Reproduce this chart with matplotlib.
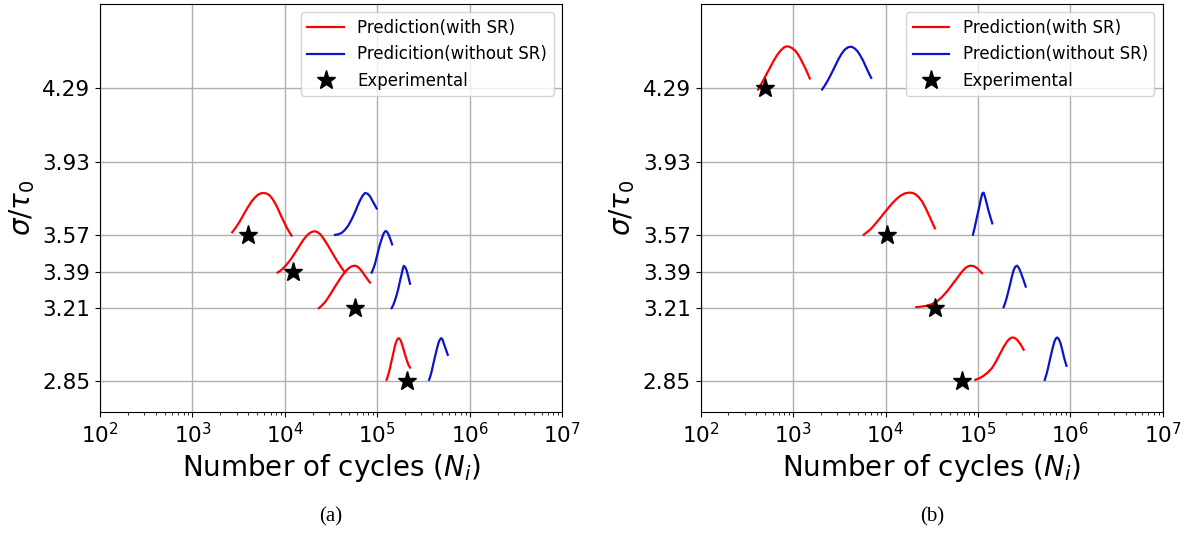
import numpy as np
import matplotlib.pyplot as plt

# y ticks = stress levels sigma/tau0
stress_ticks = [2.85, 3.21, 3.39, 3.57, 3.93, 4.29]

# ---- panel (a): curves, x given as log10(N) ----
a_red_357_x = [3.430, 3.462, 3.495, 3.531, 3.567, 3.603, 3.639, 3.675, 3.711, 3.742, 3.773, 3.806, 3.838, 3.869, 3.899, 3.928, 3.957, 3.988, 4.018, 4.045, 4.072]
a_red_357_y = [3.583, 3.602, 3.624, 3.652, 3.681, 3.709, 3.734, 3.754, 3.768, 3.775, 3.776, 3.773, 3.763, 3.745, 3.722, 3.695, 3.665, 3.636, 3.608, 3.586, 3.567]
a_blue_357_x = [4.542, 4.578, 4.614, 4.650, 4.686, 4.722, 4.758, 4.785, 4.812, 4.840, 4.866, 4.894, 4.921, 4.957, 4.993]
a_blue_357_y = [3.570, 3.573, 3.580, 3.595, 3.616, 3.646, 3.681, 3.711, 3.739, 3.762, 3.776, 3.773, 3.760, 3.730, 3.700]
a_red_339_x = [3.921, 3.952, 3.982, 4.018, 4.054, 4.090, 4.126, 4.163, 4.199, 4.235, 4.271, 4.298, 4.325, 4.352, 4.379, 4.406, 4.433, 4.469, 4.505, 4.541, 4.578, 4.614, 4.650]
a_red_339_y = [3.385, 3.394, 3.406, 3.424, 3.444, 3.468, 3.493, 3.520, 3.545, 3.566, 3.580, 3.586, 3.588, 3.584, 3.575, 3.560, 3.542, 3.516, 3.488, 3.460, 3.433, 3.408, 3.386]
a_blue_339_x = [4.939, 4.957, 4.975, 4.993, 5.011, 5.029, 5.047, 5.068, 5.090, 5.108, 5.125, 5.143, 5.160]
a_blue_339_y = [3.385, 3.404, 3.428, 3.460, 3.493, 3.524, 3.550, 3.577, 3.590, 3.584, 3.568, 3.547, 3.524]
a_red_321_x = [4.368, 4.400, 4.433, 4.469, 4.505, 4.541, 4.578, 4.614, 4.650, 4.677, 4.704, 4.731, 4.758, 4.785, 4.812, 4.839, 4.866, 4.894, 4.921]
a_red_321_y = [3.210, 3.223, 3.239, 3.262, 3.288, 3.315, 3.341, 3.366, 3.387, 3.401, 3.411, 3.417, 3.419, 3.414, 3.403, 3.388, 3.370, 3.352, 3.336]
a_blue_321_x = [5.155, 5.173, 5.191, 5.209, 5.227, 5.245, 5.264, 5.275, 5.286, 5.302, 5.318, 5.336, 5.354]
a_blue_321_y = [3.210, 3.226, 3.248, 3.275, 3.305, 3.343, 3.379, 3.402, 3.418, 3.412, 3.395, 3.364, 3.330]
a_red_285_x = [5.101, 5.119, 5.137, 5.155, 5.173, 5.186, 5.199, 5.214, 5.230, 5.247, 5.264, 5.282, 5.300, 5.318, 5.336, 5.354]
a_red_285_y = [2.858, 2.884, 2.915, 2.952, 2.989, 3.015, 3.038, 3.055, 3.063, 3.056, 3.038, 3.011, 2.981, 2.956, 2.932, 2.918]
a_blue_285_x = [5.560, 5.574, 5.588, 5.606, 5.625, 5.643, 5.661, 5.676, 5.692, 5.705, 5.718, 5.740, 5.762]
a_blue_285_y = [2.858, 2.876, 2.899, 2.936, 2.973, 3.007, 3.038, 3.055, 3.063, 3.056, 3.038, 3.010, 2.981]

a_exp_N = [4000, 12200, 57000, 208000]
a_exp_y = [3.57, 3.39, 3.21, 2.85]

# ---- panel (b) ----
b_red_429_x = [2.621, 2.652, 2.682, 2.718, 2.755, 2.791, 2.827, 2.863, 2.899, 2.930, 2.960, 2.993, 3.025, 3.052, 3.079, 3.106, 3.134, 3.158, 3.181]
b_red_429_y = [4.285, 4.309, 4.334, 4.365, 4.396, 4.427, 4.454, 4.475, 4.491, 4.497, 4.495, 4.487, 4.475, 4.458, 4.437, 4.413, 4.388, 4.363, 4.339]
b_blue_429_x = [3.314, 3.341, 3.368, 3.399, 3.430, 3.462, 3.495, 3.527, 3.560, 3.596, 3.632, 3.663, 3.693, 3.724, 3.755, 3.778, 3.801, 3.823, 3.845]
b_blue_429_y = [4.285, 4.303, 4.323, 4.349, 4.377, 4.407, 4.437, 4.462, 4.481, 4.493, 4.495, 4.488, 4.475, 4.454, 4.429, 4.406, 4.383, 4.362, 4.342]
b_red_357_x = [3.765, 3.801, 3.838, 3.874, 3.910, 3.946, 3.982, 4.027, 4.072, 4.117, 4.162, 4.208, 4.253, 4.289, 4.325, 4.361, 4.397, 4.433, 4.469, 4.502, 4.534]
b_red_357_y = [3.571, 3.584, 3.598, 3.616, 3.635, 3.655, 3.676, 3.701, 3.725, 3.746, 3.763, 3.774, 3.778, 3.777, 3.770, 3.755, 3.734, 3.703, 3.668, 3.635, 3.603]
b_blue_357_x = [4.946, 4.960, 4.975, 4.993, 5.011, 5.029, 5.047, 5.062, 5.076, 5.094, 5.112, 5.134, 5.155]
b_blue_357_y = [3.571, 3.597, 3.627, 3.665, 3.701, 3.741, 3.774, 3.778, 3.758, 3.727, 3.693, 3.659, 3.627]
b_red_321_x = [4.333, 4.391, 4.449, 4.503, 4.557, 4.611, 4.665, 4.720, 4.774, 4.819, 4.863, 4.894, 4.925, 4.958, 4.990, 5.017, 5.044]
b_red_321_y = [3.215, 3.218, 3.222, 3.230, 3.243, 3.265, 3.292, 3.325, 3.357, 3.385, 3.407, 3.416, 3.419, 3.416, 3.407, 3.395, 3.382]
b_blue_321_x = [5.278, 5.297, 5.315, 5.333, 5.351, 5.369, 5.387, 5.405, 5.424, 5.445, 5.467, 5.492, 5.517]
b_blue_321_y = [3.215, 3.239, 3.267, 3.300, 3.333, 3.368, 3.398, 3.414, 3.419, 3.406, 3.382, 3.350, 3.316]
b_red_285_x = [4.972, 5.017, 5.062, 5.108, 5.153, 5.198, 5.243, 5.279, 5.315, 5.343, 5.370, 5.397, 5.424, 5.460, 5.495]
b_red_285_y = [2.858, 2.866, 2.878, 2.895, 2.916, 2.950, 2.989, 3.020, 3.046, 3.060, 3.066, 3.064, 3.055, 3.033, 3.006]
b_blue_285_x = [5.723, 5.741, 5.759, 5.777, 5.795, 5.812, 5.828, 5.843, 5.857, 5.875, 5.893, 5.911, 5.929, 5.944, 5.958]
b_blue_285_y = [2.858, 2.884, 2.916, 2.953, 2.989, 3.020, 3.046, 3.061, 3.066, 3.058, 3.039, 3.008, 2.973, 2.948, 2.927]

b_exp_N = [500, 10300, 34000, 67600]
b_exp_y = [4.29, 3.57, 3.21, 2.85]

panels = [
    ([(a_red_357_x, a_red_357_y), (a_red_339_x, a_red_339_y),
      (a_red_321_x, a_red_321_y), (a_red_285_x, a_red_285_y)],
     [(a_blue_357_x, a_blue_357_y), (a_blue_339_x, a_blue_339_y),
      (a_blue_321_x, a_blue_321_y), (a_blue_285_x, a_blue_285_y)],
     a_exp_N, a_exp_y, 'Predicition(without SR)', '(a)'),
    ([(b_red_429_x, b_red_429_y), (b_red_357_x, b_red_357_y),
      (b_red_321_x, b_red_321_y), (b_red_285_x, b_red_285_y)],
     [(b_blue_429_x, b_blue_429_y), (b_blue_357_x, b_blue_357_y),
      (b_blue_321_x, b_blue_321_y), (b_blue_285_x, b_blue_285_y)],
     b_exp_N, b_exp_y, 'Prediction(without SR)', '(b)'),
]

red = '#ff0000'
blue = '#0a14c8'

fig = plt.figure(figsize=(11.91, 5.35), dpi=100)
lefts = [0.084, 0.5883]

for left, (reds, blues, expN, expy, blue_lab, cap) in zip(lefts, panels):
    ax = fig.add_axes([left, 0.230, 0.388, 0.7625])
    for i, (x, y) in enumerate(reds):
        ax.plot(10 ** np.array(x), y, color=red, lw=1.6,
                label='Prediction(with SR)' if i == 0 else None)
    for i, (x, y) in enumerate(blues):
        ax.plot(10 ** np.array(x), y, color=blue, lw=1.6,
                label=blue_lab if i == 0 else None)
    ax.plot(expN, expy, '*', color='black', ms=14, ls='none', label='Experimental')

    ax.set_xscale('log')
    ax.set_xlim(1e2, 1e7)
    ax.set_ylim(2.70, 4.705)
    ax.set_yticks(stress_ticks)
    ax.set_yticklabels(['%.2f' % v for v in stress_ticks])
    ax.tick_params(axis='both', which='major', labelsize=15.5)
    ax.grid(True, which='major', color='#b0b0b0', lw=1.0)
    ax.set_axisbelow(True)
    ax.set_xlabel('Number of cycles ($N_i$)', fontsize=20)
    ax.set_ylabel(r'$\sigma/\tau_0$', fontsize=20)
    ax.legend(loc='upper right', fontsize=12, handlelength=2.2)
    fig.text(left + 0.194, 0.015, cap, ha='center', va='bottom',
             family='Liberation Serif', fontsize=15)

fig.savefig('out.png', dpi=100)
